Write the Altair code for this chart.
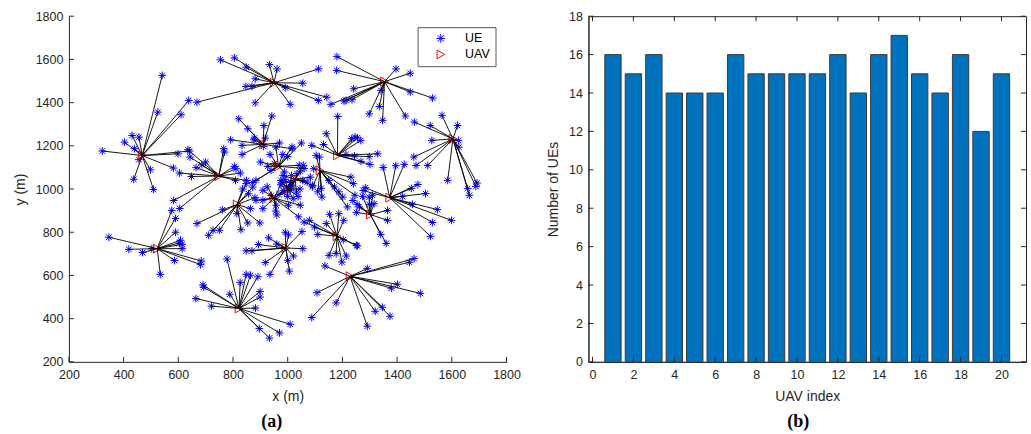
import altair as alt
import pandas as pd

# ---------------- data ----------------
uav_x = [468, 950, 1354, 1604, 910, 1182, 748, 966, 1027, 1118,
         815, 950, 1373, 1302, 523, 993, 1180, 1228, 822, 1000]
uav_y = [1155, 1492, 1497, 1232, 1207, 1156, 1060, 1105, 1045, 1086,
         928, 958, 960, 882, 724, 727, 782, 596, 447, 1000]

ue_x = [
    [322, 403, 431, 456, 440, 456, 437, 498, 509, 582, 599, 641, 541, 525, 610, 638],
    [668, 754, 805, 848, 881, 847, 869, 881, 933, 961, 991, 1055, 1113, 1009, 1112, 1143],
    [1180, 1179, 1241, 1213, 1235, 1158, 1298, 1335, 1347, 1341, 1396, 1448, 1448, 1530, 1430, 1206],
    [1463, 1521, 1564, 1621, 1527, 1624, 1626, 1461, 1469, 1512, 1585, 1658, 1664, 1692, 1688],
    [821, 854, 791, 833, 833, 876, 913, 942, 918, 970, 912, 1016, 878],
    [1183, 1141, 1131, 1234, 1246, 1255, 1267, 1213, 1244, 1298, 1329, 1301, 1268, 1088],
    [635, 643, 665, 604, 648, 686, 700, 766, 769, 805, 811, 827, 809, 849, 583, 605],
    [900, 927, 951, 982, 1016, 1050, 1042, 988, 939, 884, 935, 957, 872, 1000, 1060],
    [979, 996, 1009, 988, 1015, 1034, 1046, 1055, 1071, 1083, 1014, 983, 1032, 1091, 1057],
    [1104, 1116, 1095, 1122, 1110, 1125, 1171, 1187, 1201, 1231, 1240, 1246, 1218, 1090, 1150],
    [668, 727, 711, 750, 829, 854, 898, 864, 761, 814, 848, 872, 857, 835, 880],
    [909, 925, 909, 909, 956, 958, 1003, 1046, 1040, 985, 1014, 884, 940, 975, 960],
    [1349, 1426, 1284, 1276, 1452, 1504, 1547, 1599, 1529, 1522, 1456, 1419, 1476, 1395],
    [1298, 1298, 1365, 1365, 1340, 1360, 1254, 1251, 1310, 1316, 1262, 1238, 1274],
    [346, 419, 469, 503, 534, 586, 590, 608, 614, 614, 604, 684, 681, 576, 590],
    [848, 869, 893, 930, 991, 1003, 1052, 1055, 1021, 1000, 1006, 935, 918, 960],
    [1060, 1079, 1098, 1110, 1141, 1153, 1187, 1205, 1203, 1255, 1214, 1177, 1151, 1198, 1251],
    [1136, 1107, 1088, 1177, 1291, 1320, 1346, 1374, 1291, 1401, 1379, 1485, 1445, 1462],
    [778, 690, 693, 664, 721, 788, 826, 848, 864, 891, 899, 899, 882, 1009, 970, 933, 896],
    [968, 1000, 1020, 1045, 990, 975, 1010, 1038],
]
ue_y = [
    [1176, 1217, 1248, 1240, 1187, 1136, 1045, 1089, 998, 1097, 1163, 1176, 1526, 1356, 1344, 1410],
    [1402, 1598, 1607, 1564, 1510, 1475, 1475, 1399, 1576, 1556, 1469, 1490, 1556, 1392, 1410, 1425],
    [1613, 1549, 1464, 1410, 1413, 1392, 1348, 1382, 1318, 1456, 1556, 1536, 1449, 1421, 1338, 1407],
    [1310, 1294, 1341, 1294, 1225, 1225, 1194, 1148, 1109, 1109, 1040, 1002, 971, 1028, 1012],
    [1325, 1279, 1228, 1202, 1160, 1228, 1294, 1338, 1236, 1213, 1197, 1186, 1236],
    [1336, 1256, 1206, 1233, 1240, 1237, 1225, 1160, 1153, 1150, 1163, 1114, 1128, 1202],
    [1182, 1148, 1099, 1074, 1058, 1112, 1125, 1187, 1171, 1105, 1094, 1074, 1040, 1040, 947, 910],
    [1125, 1105, 1118, 1160, 1194, 1213, 1110, 1079, 1086, 1040, 1160, 1194, 1030, 1150, 1095],
    [1028, 1009, 994, 986, 1017, 1071, 1083, 1040, 1032, 1055, 1063, 1063, 986, 1017, 1110],
    [1156, 1148, 1094, 1003, 987, 963, 1010, 987, 963, 1055, 1025, 971, 917, 1010, 1040],
    [840, 809, 786, 809, 812, 843, 843, 909, 904, 886, 1025, 1009, 978, 1000, 960],
    [994, 1010, 948, 909, 898, 925, 925, 925, 871, 994, 1009, 948, 970, 1020, 880],
    [1100, 1114, 1006, 993, 1003, 979, 905, 855, 845, 781, 929, 966, 1021, 1108],
    [962, 929, 901, 855, 790, 748, 929, 892, 971, 932, 917, 947, 966],
    [777, 721, 706, 724, 605, 669, 800, 763, 744, 724, 750, 667, 650, 901, 864],
    [714, 714, 743, 774, 800, 788, 803, 724, 690, 670, 620, 605, 660, 745],
    [847, 855, 824, 790, 840, 883, 886, 855, 765, 737, 690, 701, 693, 662, 739],
    [644, 520, 405, 473, 365, 434, 453, 411, 632, 559, 541, 517, 661, 678],
    [676, 556, 545, 493, 458, 513, 568, 605, 601, 594, 526, 500, 449, 374, 334, 310, 354],
    [975, 965, 955, 1000, 1045, 1040, 1030, 965],
]

uav_index = list(range(1, 21))
ue_counts = [16, 15, 16, 14, 14, 14, 16, 15, 15, 15, 15, 16, 14, 16, 17, 15, 14, 16, 12, 15]

xy_ticks = [200, 400, 600, 800, 1000, 1200, 1400, 1600, 1800]
bar_xticks = [0, 2, 4, 6, 8, 10, 12, 14, 16, 18, 20]
bar_yticks = [0, 2, 4, 6, 8, 10, 12, 14, 16, 18]

# ---------------- tables ----------------
rows = []
for k in range(len(uav_x)):
    for xv, yv in zip(ue_x[k], ue_y[k]):
        rows.append({"x": xv, "y": yv, "ux": uav_x[k], "uy": uav_y[k], "type": "UE"})
ue_df = pd.DataFrame(rows)
uav_df = pd.DataFrame({"x": uav_x, "y": uav_y, "type": ["UAV"] * len(uav_x)})
bar_df = pd.DataFrame({"idx": uav_index, "n": ue_counts})
xyt_df = pd.DataFrame({"x": xy_ticks, "y": xy_ticks})
bxt_df = pd.DataFrame({"x0": bar_xticks})
byt_df = pd.DataFrame({"n": bar_yticks})

# ---------------- styling ----------------
W, H = 438, 346
INK = "#262626"
FONT = "Liberation Sans"
TL = 5  # inward tick length
ASTERISK = "M-1,0L1,0M0,-1L0,1M-0.72,-0.72L0.72,0.72M-0.72,0.72L0.72,-0.72"


def axis(title, values, pad_lab, pad_title):
    return alt.Axis(title=title, values=values, format="d", grid=False, ticks=False,
                    domainColor=INK, domainWidth=1, labelColor=INK,
                    labelFont=FONT, labelFontSize=12.5, labelPadding=pad_lab,
                    titleColor=INK, titleFont=FONT, titleFontSize=14,
                    titleFontWeight="normal", titlePadding=pad_title,
                    labelFlush=False, labelOverlap=False)


# ---------------- panel (a) ----------------
sx = alt.Scale(domain=[200, 1800], nice=False, zero=False)
sy = alt.Scale(domain=[200, 1800], nice=False, zero=False)
ax_ax = axis("x (m)", xy_ticks, 7, 8)
ax_ay = axis("y (m)", xy_ticks, 6, 8)
color_scale = alt.Scale(domain=["UE", "UAV"], range=["#0000FF", "#FF0000"])
shape_scale = alt.Scale(domain=["UE", "UAV"], range=[ASTERISK, "triangle-right"])
leg = alt.Legend(title=None, orient="top-right", offset=11, fillColor="white",
                 strokeColor="#555555", padding=5, labelFont=FONT, labelFontSize=12.5,
                 labelColor="black", symbolOffset=12, labelOffset=18,
                 symbolStrokeWidth=1, symbolSize=75, rowPadding=2)

XA = alt.X("x:Q", scale=sx, axis=ax_ax)
YA = alt.Y("y:Q", scale=sy, axis=ax_ay)

ue_layer = alt.Chart(ue_df).mark_point(filled=False, size=60, strokeWidth=1, opacity=1).encode(
    x=XA, y=YA,
    color=alt.Color("type:N", scale=color_scale, legend=leg),
    shape=alt.Shape("type:N", scale=shape_scale, legend=leg),
)
uav_layer = alt.Chart(uav_df).mark_point(filled=False, size=80, strokeWidth=1, opacity=1).encode(
    x=XA, y=YA,
    color=alt.Color("type:N", scale=color_scale, legend=leg),
    shape=alt.Shape("type:N", scale=shape_scale, legend=leg),
)
link_layer = alt.Chart(ue_df).mark_rule(color="black", strokeWidth=0.9).encode(
    x=XA, y=YA, x2="ux:Q", y2="uy:Q",
)
a_xt = alt.Chart(xyt_df).mark_rule(color=INK, strokeWidth=1).encode(
    x=XA, y=alt.value(H), y2=alt.value(H - TL))
a_yt = alt.Chart(xyt_df).mark_rule(color=INK, strokeWidth=1).encode(
    y=YA, x=alt.value(0), x2=alt.value(TL))

panel_a = alt.layer(ue_layer, uav_layer, link_layer, a_xt, a_yt).properties(
    width=W, height=H,
    title=alt.TitleParams("(a)", orient="bottom", font="Liberation Serif", fontSize=18,
                          fontWeight="bold", color="black", dx=-16, offset=10),
)

# ---------------- panel (b) ----------------
bx = alt.Scale(domain=[-0.2, 21.2], nice=False, zero=False)
by = alt.Scale(domain=[0, 18], nice=False)
XB = alt.X("x0:Q", scale=bx, axis=axis("UAV index", bar_xticks, 7, 8))
YB = alt.Y("n:Q", scale=by, axis=axis("Number of UEs", bar_yticks, 6, 8))

bars = alt.Chart(bar_df).transform_calculate(
    x0="datum.idx - 0.4", x1="datum.idx + 0.4"
).mark_bar(color="#0072BD", stroke="#3a3a3a", strokeWidth=1).encode(
    x=XB, x2="x1:Q", y=YB, y2=alt.datum(0),
)
b_xb = alt.Chart(bxt_df).mark_rule(color=INK).encode(
    x=XB, y=alt.value(H), y2=alt.value(H - TL))
b_xt = alt.Chart(bxt_df).mark_rule(color=INK).encode(
    x=XB, y=alt.value(0), y2=alt.value(TL))
b_yl = alt.Chart(byt_df).mark_rule(color=INK).encode(
    y=YB, x=alt.value(0), x2=alt.value(TL))
b_yr = alt.Chart(byt_df).mark_rule(color=INK).encode(
    y=YB, x=alt.value(W), x2=alt.value(W - TL))

panel_b = alt.layer(bars, b_xb, b_xt, b_yl, b_yr).properties(
    width=W, height=H,
    view=alt.ViewBackground(stroke=INK, strokeWidth=1),
    title=alt.TitleParams("(b)", orient="bottom", font="Liberation Serif", fontSize=18,
                          fontWeight="bold", color="black", dx=-9, offset=10),
)

chart = alt.hconcat(panel_a, panel_b, spacing=25).resolve_scale(
    color="independent", shape="independent"
).resolve_legend(
    color="independent", shape="independent"
).properties(
    padding={"left": 13, "top": 9, "right": 4, "bottom": 2},
    background="white",
).configure_view(stroke=None)

chart.save("out.html", embed_options={"renderer": "svg", "actions": False})
